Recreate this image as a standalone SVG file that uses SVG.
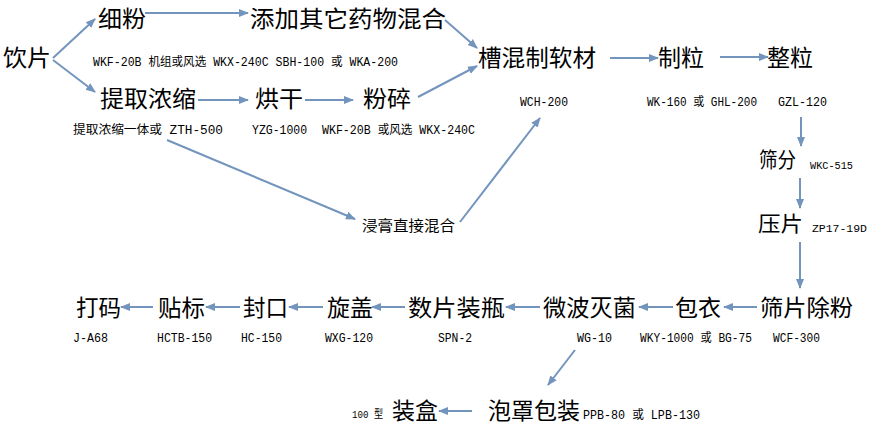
<svg xmlns="http://www.w3.org/2000/svg" width="871" height="427" viewBox="0 0 871 427">
<style>
.big{font-family:"Noto Sans CJK SC","Liberation Serif",sans-serif;font-size:23px;fill:#000}
.mid{font-family:"Noto Sans CJK SC","Liberation Serif",sans-serif;font-size:21px;fill:#000}
.sm15{font-family:"Noto Sans CJK SC",sans-serif;font-size:15px;fill:#000}
.lab{font-family:"Liberation Mono","Noto Sans CJK SC",monospace;font-size:12px;fill:#000}
.lab11{font-family:"Liberation Mono","Noto Sans CJK SC",monospace;font-size:11px;fill:#000}
.c line{stroke:#7294bd;stroke-width:2;fill:none;marker-end:url(#ah)}
</style>
<defs>
<marker id="ah" markerUnits="userSpaceOnUse" markerWidth="10" markerHeight="10" viewBox="0 0 10 10" refX="9" refY="5" orient="auto">
<path d="M0,1 L10,5 L0,9 Z" fill="#7294bd"/>
</marker>
</defs>
<rect width="871" height="427" fill="#fff"/>
<g id="n-yinpian"><text class="big" x="3" y="66" textLength="48" lengthAdjust="spacingAndGlyphs">饮片</text></g>
<g id="n-xifen"><text class="big" x="98" y="27" textLength="48" lengthAdjust="spacingAndGlyphs">细粉</text></g>
<g id="n-tianjia"><text class="big" x="250" y="27" textLength="196" lengthAdjust="spacingAndGlyphs">添加其它药物混合</text></g>
<g id="l-row1"><text class="lab" x="93" y="66" textLength="305" lengthAdjust="spacingAndGlyphs">WKF-20B 机组或风选 WKX-240C SBH-100 或 WKA-200</text></g>
<g id="n-tiqu"><text class="big" x="100" y="107" textLength="96" lengthAdjust="spacingAndGlyphs">提取浓缩</text>
<text class="lab" x="73" y="134" textLength="150" lengthAdjust="spacingAndGlyphs">提取浓缩一体或 ZTH-500</text></g>
<g id="n-honggan"><text class="big" x="255" y="107" textLength="48" lengthAdjust="spacingAndGlyphs">烘干</text>
<text class="lab" x="252" y="134" textLength="55" lengthAdjust="spacingAndGlyphs">YZG-1000</text></g>
<g id="n-fensui"><text class="big" x="363" y="107" textLength="48" lengthAdjust="spacingAndGlyphs">粉碎</text>
<text class="lab" x="322" y="134" textLength="153" lengthAdjust="spacingAndGlyphs">WKF-20B 或风选 WKX-240C</text></g>
<g id="n-caohun"><text class="big" x="478" y="66" textLength="118" lengthAdjust="spacingAndGlyphs">槽混制软材</text>
<text class="lab" x="520" y="106" textLength="48" lengthAdjust="spacingAndGlyphs">WCH-200</text></g>
<g id="n-zhili"><text class="big" x="658" y="66" textLength="46" lengthAdjust="spacingAndGlyphs">制粒</text>
<text class="lab" x="647" y="106" textLength="110" lengthAdjust="spacingAndGlyphs">WK-160 或 GHL-200</text></g>
<g id="n-zhengli"><text class="big" x="767" y="66" textLength="46" lengthAdjust="spacingAndGlyphs">整粒</text>
<text class="lab" x="778" y="106" textLength="49" lengthAdjust="spacingAndGlyphs">GZL-120</text></g>
<g id="n-jingao"><text class="sm15" x="362" y="231" textLength="93" lengthAdjust="spacingAndGlyphs">浸膏直接混合</text></g>
<g id="n-shaifen"><text class="mid" x="759" y="167" textLength="37" lengthAdjust="spacingAndGlyphs">筛分</text>
<text class="lab11" x="810" y="169" textLength="43" lengthAdjust="spacingAndGlyphs">WKC-515</text></g>
<g id="n-yapian"><text class="mid" x="758" y="231" textLength="45" lengthAdjust="spacingAndGlyphs">压片</text>
<text class="lab11" x="812" y="232" textLength="55" lengthAdjust="spacingAndGlyphs">ZP17-19D</text></g>
<g id="n-shaipian"><text class="big" x="760" y="316" textLength="93" lengthAdjust="spacingAndGlyphs">筛片除粉</text>
<text class="lab" x="773" y="342" textLength="47" lengthAdjust="spacingAndGlyphs">WCF-300</text></g>
<g id="n-baoyi"><text class="big" x="675" y="316" textLength="46" lengthAdjust="spacingAndGlyphs">包衣</text>
<text class="lab" x="640" y="342" textLength="112" lengthAdjust="spacingAndGlyphs">WKY-1000 或 BG-75</text></g>
<g id="n-weibo"><text class="big" x="543" y="316" textLength="93" lengthAdjust="spacingAndGlyphs">微波灭菌</text>
<text class="lab" x="577" y="342" textLength="35" lengthAdjust="spacingAndGlyphs">WG-10</text></g>
<g id="n-shupian"><text class="big" x="408" y="316" textLength="97" lengthAdjust="spacingAndGlyphs">数片装瓶</text>
<text class="lab" x="438" y="342" textLength="34" lengthAdjust="spacingAndGlyphs">SPN-2</text></g>
<g id="n-xuangai"><text class="big" x="327" y="316" textLength="46" lengthAdjust="spacingAndGlyphs">旋盖</text>
<text class="lab" x="325" y="342" textLength="48" lengthAdjust="spacingAndGlyphs">WXG-120</text></g>
<g id="n-fengkou"><text class="big" x="243" y="316" textLength="45" lengthAdjust="spacingAndGlyphs">封口</text>
<text class="lab" x="241" y="342" textLength="41" lengthAdjust="spacingAndGlyphs">HC-150</text></g>
<g id="n-tiebiao"><text class="big" x="158" y="316" textLength="47" lengthAdjust="spacingAndGlyphs">贴标</text>
<text class="lab" x="157" y="342" textLength="55" lengthAdjust="spacingAndGlyphs">HCTB-150</text></g>
<g id="n-dama"><text class="big" x="76" y="316" textLength="45" lengthAdjust="spacingAndGlyphs">打码</text>
<text class="lab" x="73" y="342" textLength="35" lengthAdjust="spacingAndGlyphs">J-A68</text></g>
<g id="n-paozhao"><text class="big" x="488" y="419" textLength="92" lengthAdjust="spacingAndGlyphs">泡罩包装</text>
<text class="lab" x="583" y="419" textLength="117" lengthAdjust="spacingAndGlyphs">PPB-80 或 LPB-130</text></g>
<g id="n-zhuanghe"><text class="big" x="392" y="419" textLength="46" lengthAdjust="spacingAndGlyphs">装盒</text>
<text class="lab11" x="352" y="418" textLength="31" lengthAdjust="spacingAndGlyphs">100 型</text></g>
<g id="connectors" class="c">
<line x1="53" y1="58" x2="95" y2="19"/>
<line x1="53" y1="60" x2="95" y2="92"/>
<line x1="145" y1="13" x2="248" y2="13"/>
<line x1="198" y1="100" x2="248" y2="100"/>
<line x1="305" y1="100" x2="353" y2="100"/>
<line x1="445" y1="20" x2="477" y2="48"/>
<line x1="418" y1="97" x2="477" y2="66"/>
<line x1="610" y1="58" x2="658" y2="58"/>
<line x1="720" y1="57" x2="768" y2="57"/>
<line x1="167" y1="140" x2="355" y2="219"/>
<line x1="460" y1="222" x2="540" y2="118"/>
<line x1="801" y1="117" x2="801" y2="146"/>
<line x1="800" y1="178" x2="800" y2="208"/>
<line x1="800" y1="242" x2="800" y2="288"/>
<line x1="757" y1="307" x2="724" y2="307"/>
<line x1="673" y1="307" x2="639" y2="307"/>
<line x1="540" y1="307" x2="506" y2="307"/>
<line x1="405" y1="307" x2="372" y2="307"/>
<line x1="323" y1="307" x2="289" y2="307"/>
<line x1="240" y1="307" x2="206" y2="307"/>
<line x1="153" y1="307" x2="121" y2="307"/>
<line x1="575" y1="350" x2="548" y2="385"/>
<line x1="472" y1="411" x2="439" y2="411"/>
</g>
</svg>
